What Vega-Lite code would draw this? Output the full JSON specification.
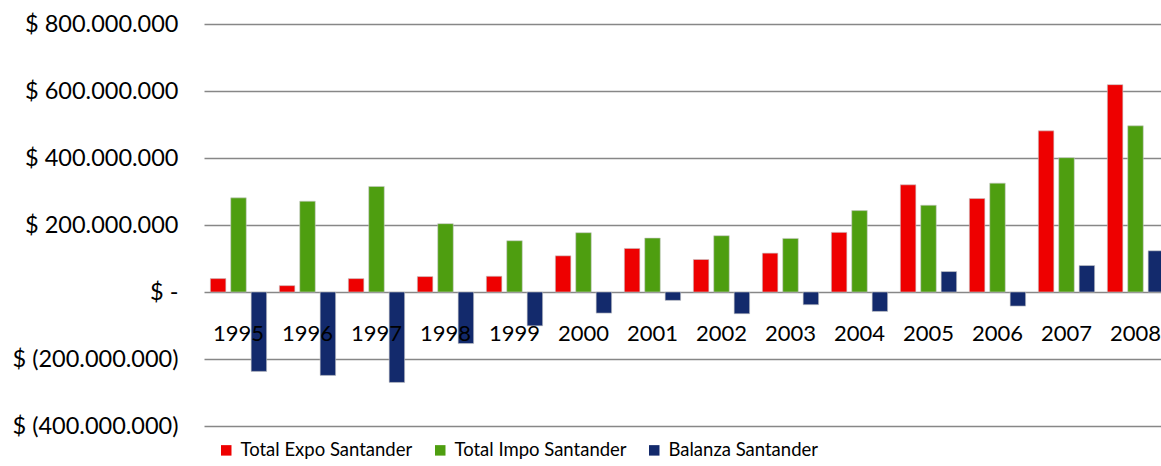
{
  "$schema": "https://vega.github.io/schema/vega-lite/v6.json",
  "width": 957,
  "height": 402,
  "autosize": {"type": "none"},
  "padding": {"left": 204, "top": 24, "right": 0, "bottom": 40},
  "background": "white",
  "config": {
    "font": "Lato",
    "view": {"stroke": null}
  },
  "data": {
    "values": [
      {"year": "1995", "series": "Total Expo Santander", "value": 40000000},
      {"year": "1995", "series": "Total Impo Santander", "value": 281000000},
      {"year": "1995", "series": "Balanza Santander", "value": -237000000},
      {"year": "1996", "series": "Total Expo Santander", "value": 19000000},
      {"year": "1996", "series": "Total Impo Santander", "value": 271000000},
      {"year": "1996", "series": "Balanza Santander", "value": -249000000},
      {"year": "1997", "series": "Total Expo Santander", "value": 40000000},
      {"year": "1997", "series": "Total Impo Santander", "value": 315000000},
      {"year": "1997", "series": "Balanza Santander", "value": -270000000},
      {"year": "1998", "series": "Total Expo Santander", "value": 46000000},
      {"year": "1998", "series": "Total Impo Santander", "value": 204000000},
      {"year": "1998", "series": "Balanza Santander", "value": -154000000},
      {"year": "1999", "series": "Total Expo Santander", "value": 47000000},
      {"year": "1999", "series": "Total Impo Santander", "value": 153000000},
      {"year": "1999", "series": "Balanza Santander", "value": -101000000},
      {"year": "2000", "series": "Total Expo Santander", "value": 108000000},
      {"year": "2000", "series": "Total Impo Santander", "value": 177000000},
      {"year": "2000", "series": "Balanza Santander", "value": -63000000},
      {"year": "2001", "series": "Total Expo Santander", "value": 130000000},
      {"year": "2001", "series": "Total Impo Santander", "value": 161000000},
      {"year": "2001", "series": "Balanza Santander", "value": -25000000},
      {"year": "2002", "series": "Total Expo Santander", "value": 97000000},
      {"year": "2002", "series": "Total Impo Santander", "value": 168000000},
      {"year": "2002", "series": "Balanza Santander", "value": -65000000},
      {"year": "2003", "series": "Total Expo Santander", "value": 116000000},
      {"year": "2003", "series": "Total Impo Santander", "value": 160000000},
      {"year": "2003", "series": "Balanza Santander", "value": -38000000},
      {"year": "2004", "series": "Total Expo Santander", "value": 178000000},
      {"year": "2004", "series": "Total Impo Santander", "value": 243000000},
      {"year": "2004", "series": "Balanza Santander", "value": -58000000},
      {"year": "2005", "series": "Total Expo Santander", "value": 320000000},
      {"year": "2005", "series": "Total Impo Santander", "value": 259000000},
      {"year": "2005", "series": "Balanza Santander", "value": 61000000},
      {"year": "2006", "series": "Total Expo Santander", "value": 279000000},
      {"year": "2006", "series": "Total Impo Santander", "value": 325000000},
      {"year": "2006", "series": "Balanza Santander", "value": -42000000},
      {"year": "2007", "series": "Total Expo Santander", "value": 481000000},
      {"year": "2007", "series": "Total Impo Santander", "value": 401000000},
      {"year": "2007", "series": "Balanza Santander", "value": 79000000},
      {"year": "2008", "series": "Total Expo Santander", "value": 619000000},
      {"year": "2008", "series": "Total Impo Santander", "value": 496000000},
      {"year": "2008", "series": "Balanza Santander", "value": 123000000}
    ]
  },
  "mark": {"type": "bar", "stroke": "#c8c8c8", "strokeWidth": 0.6},
  "encoding": {
    "x": {
      "field": "year",
      "type": "ordinal",
      "scale": {"range": [0, 966], "paddingInner": 0.184, "paddingOuter": 0.092},
      "axis": {
        "title": null,
        "orient": "bottom",
        "offset": -134,
        "domain": false,
        "ticks": false,
        "grid": false,
        "labelAngle": 0,
        "labelFont": "Lato",
        "labelFontSize": 22,
        "labelColor": "black",
        "labelPadding": 31,
        "zindex": 1
      }
    },
    "xOffset": {
      "field": "series",
      "type": "nominal",
      "sort": ["Total Expo Santander", "Total Impo Santander", "Balanza Santander"],
      "scale": {"paddingInner": 0.24, "paddingOuter": 0}
    },
    "y": {
      "field": "value",
      "type": "quantitative",
      "scale": {"domain": [-400000000, 800000000], "nice": false},
      "axis": {
        "title": null,
        "values": [-400000000, -200000000, 0, 200000000, 400000000, 600000000, 800000000],
        "domain": false,
        "ticks": false,
        "grid": true,
        "gridColor": "#878787",
        "gridWidth": 1.5,
        "labelFont": "Lato",
        "labelFontSize": 23.5,
        "labelColor": "black",
        "labelPadding": 26,
        "labelExpr": "datum.value == 0 ? '$ -\u00a0\u00a0\u00a0\u00a0' : (datum.value < 0 ? '$ (' + replace(format(-datum.value, ','), regexp(',', 'g'), '.') + ')' : '$ ' + replace(format(datum.value, ','), regexp(',', 'g'), '.') + '\u00a0\u00a0')"
      }
    },
    "color": {
      "field": "series",
      "type": "nominal",
      "sort": ["Total Expo Santander", "Total Impo Santander", "Balanza Santander"],
      "scale": {
        "domain": ["Total Expo Santander", "Total Impo Santander", "Balanza Santander"],
        "range": ["#EE0000", "#4E9E10", "#132A6C"]
      },
      "legend": {
        "title": null,
        "orient": "none",
        "legendX": 13,
        "legendY": 417,
        "direction": "horizontal",
        "padding": 0,
        "symbolType": "square",
        "symbolSize": 110,
        "symbolStrokeWidth": 0,
        "labelFont": "Lato",
        "labelFontSize": 18.5,
        "labelColor": "black",
        "labelOffset": 5,
        "labelLimit": 400,
        "columnPadding": 18
      }
    }
  }
}
